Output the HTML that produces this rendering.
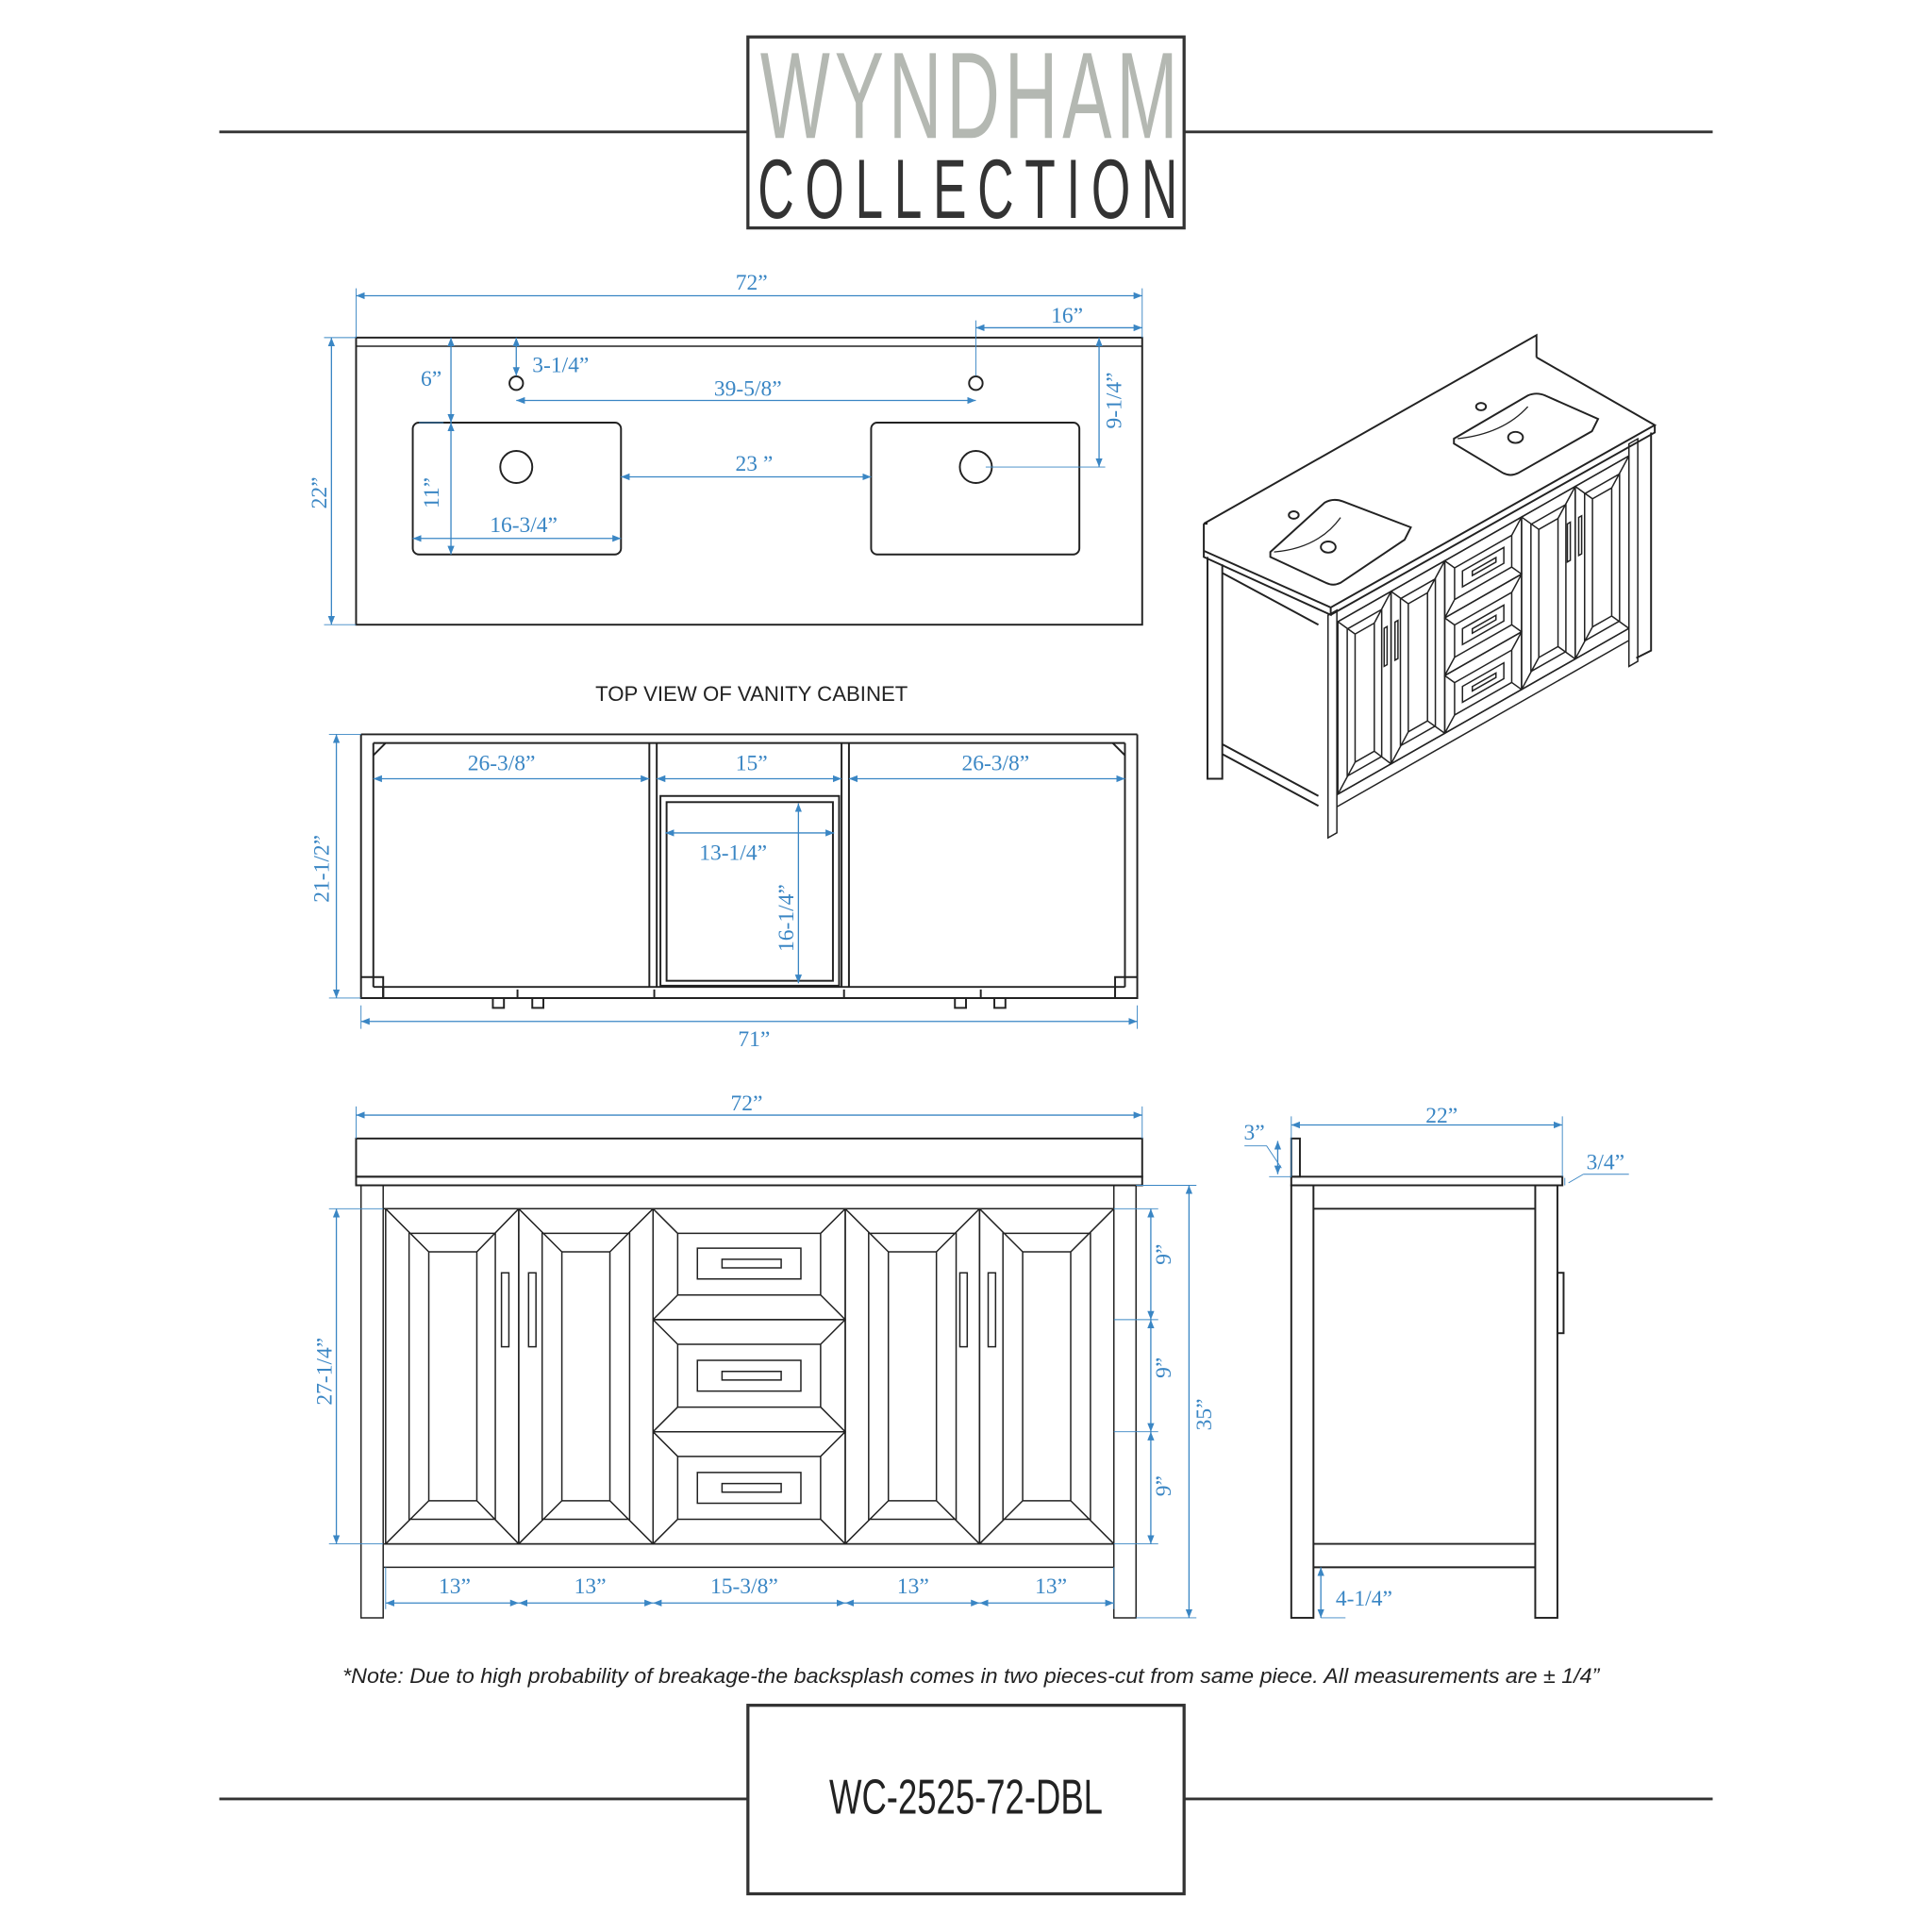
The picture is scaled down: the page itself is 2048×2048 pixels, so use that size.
<!DOCTYPE html>
<html><head><meta charset="utf-8"><style>
html,body{margin:0;padding:0;background:#fff}
svg{display:block}
.k{fill:none;stroke:#222;stroke-width:1.5}
.kt{fill:none;stroke:#222;stroke-width:1.1}
.b{fill:none;stroke:#3a86c4;stroke-width:1;marker-start:url(#a);marker-end:url(#a)}
.e{fill:none;stroke:#3a86c4;stroke-width:.7}
.t{font-family:"Liberation Serif",serif;font-size:18px;fill:#3a86c4}
</style></head><body>
<svg width="2048" height="2048" viewBox="0 0 1568 1568" xmlns="http://www.w3.org/2000/svg">
<defs>
<marker id="a" viewBox="0 0 10 10" refX="10" refY="5" markerWidth="7" markerHeight="7" orient="auto-start-reverse" markerUnits="userSpaceOnUse"><path d="M0,1 L10,5 L0,9 Z" fill="#3a86c4"/></marker>
<g id="face">
<rect x="293" y="962" width="18" height="351" class="k" vector-effect="non-scaling-stroke"/>
<rect x="904" y="962" width="18" height="351" class="k" vector-effect="non-scaling-stroke"/>
<path class="k" vector-effect="non-scaling-stroke" d="M311,981H904M311,1253H904M311,1272H904"/>
<g class="k">
<path vector-effect="non-scaling-stroke" d="M313,981H421V1253H313Z M332,1001H402V1233H332Z M348,1016H387V1218H348Z M313,981L348,1016M421,981L387,1016M313,1253L348,1218M421,1253L387,1218"/>
<path vector-effect="non-scaling-stroke" d="M421,981H530V1253H421Z M440,1001H511V1233H440Z M456,1016H495V1218H456Z M421,981L456,1016M530,981L495,1016M421,1253L456,1218M530,1253L495,1218"/>
<path vector-effect="non-scaling-stroke" d="M686,981H795V1253H686Z M705,1001H776V1233H705Z M721,1016H760V1218H721Z M686,981L721,1016M795,981L760,1016M686,1253L721,1218M795,1253L760,1218"/>
<path vector-effect="non-scaling-stroke" d="M795,981H904V1253H795Z M814,1001H885V1233H814Z M830,1016H869V1218H830Z M795,981L830,1016M904,981L869,1016M795,1253L830,1218M904,1253L869,1218"/>
<path vector-effect="non-scaling-stroke" d="M530,981H686V1071H530Z M550,1001H666V1051H550Z M530,981L550,1001M686,981L666,1001M530,1071L550,1051M686,1071L666,1051 M566,1013H650V1038H566Z M586,1022H634V1029H586Z"/>
<path vector-effect="non-scaling-stroke" d="M530,1071H686V1162H530Z M550,1091H666V1142H550Z M530,1071L550,1091M686,1071L666,1091M530,1162L550,1142M686,1162L666,1142 M566,1104H650V1129H566Z M586,1113H634V1120H586Z"/>
<path vector-effect="non-scaling-stroke" d="M530,1162H686V1253H530Z M550,1182H666V1233H550Z M530,1162L550,1182M686,1162L666,1182M530,1253L550,1233M686,1253L666,1233 M566,1195H650V1220H566Z M586,1204H634V1211H586Z"/>
<path vector-effect="non-scaling-stroke" d="M407,1033H413V1093H407Z M429,1033H435V1093H429Z M779,1033H785V1093H779Z M802,1033H808V1093H802Z"/>
</g>
</g>
</defs>
<rect width="1568" height="1568" fill="#fff"/>
<!-- header -->
<path d="M178,107H607M961,107H1390M178,1460H607M961,1460H1390" stroke="#333" stroke-width="2.2" fill="none"/>
<rect x="607" y="30" width="354" height="155" fill="none" stroke="#333" stroke-width="2.5"/>
<g transform="translate(617,0) scale(0.6,1)">
<text x="0" y="112" font-family="'Liberation Sans Narrow','Liberation Sans',sans-serif" font-size="100" fill="#b4b8b2" textLength="565" lengthAdjust="spacing">WYNDHAM</text>
</g>
<g transform="translate(615,0) scale(0.6,1)">
<text x="0" y="177" font-family="'Liberation Sans Narrow','Liberation Sans',sans-serif" font-size="68" fill="#333" textLength="568" lengthAdjust="spacing">COLLECTION</text>
</g>
<rect x="607" y="1384" width="354" height="153" fill="none" stroke="#333" stroke-width="2.5"/>
<text x="784" y="1472" text-anchor="middle" font-family="'Liberation Sans Narrow','Liberation Sans',sans-serif" font-size="40" fill="#222" textLength="222" lengthAdjust="spacingAndGlyphs">WC-2525-72-DBL</text>
<text x="788" y="1366" text-anchor="middle" font-family="'Liberation Sans',sans-serif" font-style="italic" font-size="17" fill="#222" textLength="1020" lengthAdjust="spacingAndGlyphs">*Note: Due to high probability of breakage-the backsplash comes in two pieces-cut from same piece.  All measurements are ± 1/4”</text>

<!-- top view countertop -->
<rect x="289" y="274" width="638" height="233" class="k"/>
<path class="kt" d="M289,281H927"/>
<rect x="335" y="343" width="169" height="107" rx="5" class="k"/>
<rect x="707" y="343" width="169" height="107" rx="5" class="k"/>
<circle cx="419" cy="311" r="5.5" class="k"/><circle cx="792" cy="311" r="5.5" class="k"/>
<circle cx="419" cy="379" r="13" class="k"/><circle cx="792" cy="379" r="13" class="k"/>
<path class="e" d="M289,234V274M927,234V274M792,260V305M263,274H289M263,507H289M360,343H340M897,379H800"/>
<path class="b" d="M289,240H927"/><text class="t" x="610" y="235" text-anchor="middle">72”</text>
<path class="b" d="M792,266H927"/><text class="t" x="866" y="262" text-anchor="middle">16”</text>
<path class="b" d="M269,274V507"/><text class="t" transform="translate(265,400) rotate(-90)" text-anchor="middle">22”</text>
<path class="b" d="M366,274V343"/><text class="t" x="350" y="313" text-anchor="middle">6”</text>
<path class="b" d="M419,274V305"/><text class="t" x="455" y="302" text-anchor="middle">3-1/4”</text>
<path class="b" d="M419,325H792"/><text class="t" x="607" y="321" text-anchor="middle">39-5/8”</text>
<path class="b" d="M892,274V379"/><text class="t" transform="translate(910,325) rotate(-90)" text-anchor="middle">9-1/4”</text>
<path class="b" d="M504,387H707"/><text class="t" x="612" y="382" text-anchor="middle">23 ”</text>
<path class="b" d="M366,343V450"/><text class="t" transform="translate(356,400) rotate(-90)" text-anchor="middle">11”</text>
<path class="b" d="M335,437H504"/><text class="t" x="425" y="432" text-anchor="middle">16-3/4”</text>
<text x="610" y="569" text-anchor="middle" font-family="'Liberation Sans',sans-serif" font-size="17" fill="#222">TOP VIEW OF VANITY CABINET</text>

<!-- cabinet top -->
<g class="k">
<path d="M293,596H923M303,603H913M293,596V810H923V596M303,603V801M913,603V801M303,801H913M311,810V801"/>
<path d="M527,603V801M533,603V801M683,603V801M689,603V801"/>
<rect x="536" y="646" width="145" height="154"/>
<rect x="541" y="651" width="135" height="145"/>
<path d="M293,793H311V810M905,810V793H923M303,613L313,603M913,613L903,603"/>
<path d="M311,801V810M905,801V810M420,803V810M531,803V810M685,803V810M796,803V810"/>
<rect x="400" y="810" width="9" height="8"/><rect x="432" y="810" width="9" height="8"/>
<rect x="775" y="810" width="9" height="8"/><rect x="807" y="810" width="9" height="8"/>
</g>
<path class="e" d="M267,596H293M267,810H293M293,816V835M923,816V835"/>
<path class="b" d="M303,632H527"/><text class="t" x="407" y="625" text-anchor="middle">26-3/8”</text>
<path class="b" d="M533,632H683"/><text class="t" x="610" y="625" text-anchor="middle">15”</text>
<path class="b" d="M689,632H913"/><text class="t" x="808" y="625" text-anchor="middle">26-3/8”</text>
<path class="b" d="M540,676H677"/><text class="t" x="595" y="698" text-anchor="middle">13-1/4”</text>
<path class="b" d="M648,652V798"/><text class="t" transform="translate(644,745) rotate(-90)" text-anchor="middle">16-1/4”</text>
<path class="b" d="M273,596V810"/><text class="t" transform="translate(267,705) rotate(-90)" text-anchor="middle">21-1/2”</text>
<path class="b" d="M293,829H923"/><text class="t" x="612" y="849" text-anchor="middle">71”</text>

<!-- front elevation -->
<rect x="289" y="924" width="638" height="31" class="k"/>
<rect x="289" y="955" width="638" height="7" class="k"/>
<use href="#face"/>
<path class="e" d="M289,898V924M927,898V924M267,981H311M267,1253H311M904,981H940M904,1071H940M904,1162H940M904,1253H940M922,962H971M922,1313H971M313,1272V1306M904,1272V1306"/>
<path class="b" d="M289,905H927"/><text class="t" x="606" y="901" text-anchor="middle">72”</text>
<path class="b" d="M273,981V1253"/><text class="t" transform="translate(269,1113) rotate(-90)" text-anchor="middle">27-1/4”</text>
<path class="b" d="M934,981V1071"/><text class="t" transform="translate(950,1018) rotate(-90)" text-anchor="middle">9”</text>
<path class="b" d="M934,1071V1162"/><text class="t" transform="translate(950,1110) rotate(-90)" text-anchor="middle">9”</text>
<path class="b" d="M934,1162V1253"/><text class="t" transform="translate(950,1206) rotate(-90)" text-anchor="middle">9”</text>
<path class="b" d="M965,962V1313"/><text class="t" transform="translate(983,1148) rotate(-90)" text-anchor="middle">35”</text>
<path class="b" d="M313,1301H421"/><text class="t" x="369" y="1293" text-anchor="middle">13”</text>
<path class="b" d="M421,1301H530"/><text class="t" x="479" y="1293" text-anchor="middle">13”</text>
<path class="b" d="M530,1301H686"/><text class="t" x="604" y="1293" text-anchor="middle">15-3/8”</text>
<path class="b" d="M686,1301H795"/><text class="t" x="741" y="1293" text-anchor="middle">13”</text>
<path class="b" d="M795,1301H904"/><text class="t" x="853" y="1293" text-anchor="middle">13”</text>

<!-- side elevation -->
<g class="k">
<rect x="1048" y="924" width="7" height="31"/>
<rect x="1048" y="955" width="220" height="7"/>
<rect x="1048" y="962" width="18" height="351"/>
<rect x="1246" y="962" width="18" height="351"/>
<path d="M1066,981H1246M1066,1253H1246M1066,1272H1246"/>
<rect x="1264" y="1033" width="5" height="49"/>
</g>
<path class="e" d="M1048,906V955M1268,906V955M1030,955H1048M1010,930H1028L1040,948M1285,953H1322M1072,1313H1092"/>
<path class="b" d="M1048,913H1268"/><text class="t" x="1170" y="911" text-anchor="middle">22”</text>
<path class="b" d="M1037,926V953"/><text class="t" x="1018" y="925" text-anchor="middle">3”</text>
<path d="M1285,953L1273,960" class="e"/><path d="M1270,956V962" class="e"/>
<text class="t" x="1303" y="949" text-anchor="middle">3/4”</text>
<path class="b" d="M1072,1272V1313"/><text class="t" x="1107" y="1303" text-anchor="middle">4-1/4”</text>

<!-- isometric -->
<g class="k">
<path d="M977,425L1247,272V290M977,425V447L1080,493L1343,345L1247,290M977,425L980,425M977,447V452L1080,499V493M1080,499L1343,351V345"/>
<path d="M980,452V632H992V458M992,465L1070,507M992,612L1070,654M992,604L1070,646"/>
<path d="M1031,448L1075,408Q1082,404 1090,407L1145,428L1140,438L1088,473Q1082,476 1076,473L1031,452Z"/>
<path d="M1034,448Q1070,445 1088,420" stroke-width="1"/>
<path d="M1180,356L1240,321Q1247,318 1254,321L1297,340L1292,350L1232,384Q1226,387 1220,384L1180,360Z"/>
<path d="M1183,356Q1220,352 1240,330" stroke-width="1"/>
<ellipse cx="1050" cy="418" rx="4" ry="3"/><ellipse cx="1078" cy="444" rx="6" ry="4.5"/>
<ellipse cx="1202" cy="330" rx="4" ry="3"/><ellipse cx="1230" cy="355" rx="6" ry="4.5"/>
<path d="M1340,351V528L1328,534"/>
</g>
<use href="#face" transform="matrix(0.3997,-0.2277,0,0.5147,960.7,70.9)"/>
</svg>
</body></html>
